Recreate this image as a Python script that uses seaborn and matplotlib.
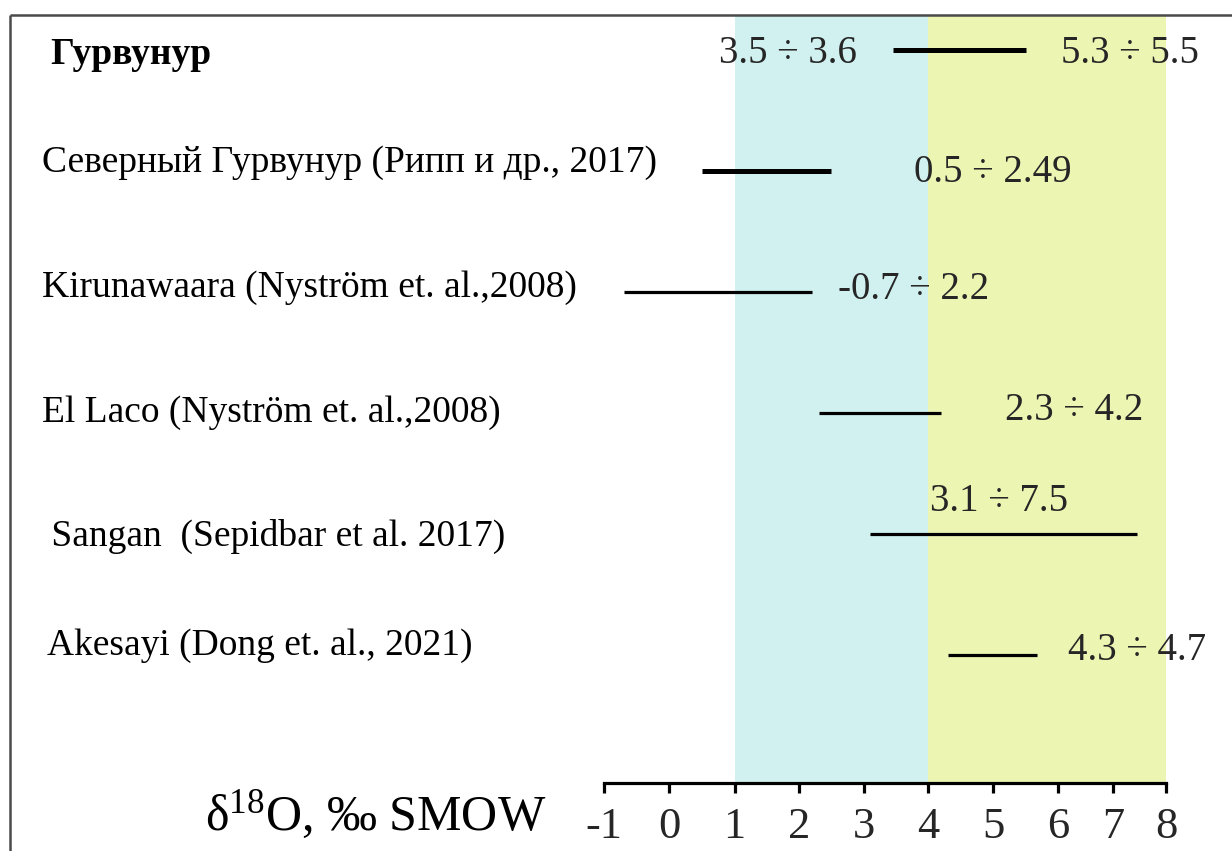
import numpy as np
import pandas as pd
import matplotlib
matplotlib.use("Agg")
import matplotlib.pyplot as plt
import seaborn as sns
from matplotlib.lines import Line2D

# ---------------- data ----------------
sites = [
    "Гурвунур",
    "Северный Гурвунур (Рипп и др., 2017)",
    "Kirunawaara (Nyström et. al.,2008)",
    "El Laco (Nyström et. al.,2008)",
    " Sangan  (Sepidbar et al. 2017)",
    "Akesayi (Dong et. al., 2021)",
]
d18o_min = [3.45, 0.5, -0.7, 2.3, 3.1, 4.3]
d18o_max = [5.5, 2.49, 2.2, 4.2, 7.45, 5.68]
range_labels = ["3.5 ÷ 3.6", "0.5 ÷ 2.49", "-0.7 ÷ 2.2", "2.3 ÷ 4.2", "3.1 ÷ 7.5", "4.3 ÷ 4.7"]
second_label = "5.3 ÷ 5.5"
line_weight = ["thick", "thick", "thin", "thin", "thin", "thin"]
x_ticks = [-1, 0, 1, 2, 3, 4, 5, 6, 7, 8]
band_magmatic = (1, 4)
band_hydrothermal = (4, 8)
x_title = r"$\mathregular{δ^{18}}$O, ‰ SMOW"

# ---------------- style ----------------
sns.set_theme(style="white")
plt.rcParams["font.family"] = ["Liberation Serif", "DejaVu Serif"]
plt.rcParams["mathtext.fontset"] = "custom"
plt.rcParams["mathtext.rm"] = "Liberation Serif"
plt.rcParams["axes.unicode_minus"] = False
plt.rcParams["lines.solid_capstyle"] = "butt"

W, H = 1232, 851
fig = plt.figure(figsize=(W / 100, H / 100), dpi=100)
fig.patch.set_facecolor("white")
ax = fig.add_axes([0, 0, 1, 1])
ax.set_facecolor("white")

# hand-drawn (slightly non-uniform) x axis of the original -> piecewise-linear scale
T = np.array(x_ticks, dtype=float)
P = np.array([604, 669, 734.5, 799, 864, 928.3, 993.3, 1058, 1113, 1166], dtype=float)
sl = (P[1] - P[0]) / (T[1] - T[0])
sr = (P[-1] - P[-2]) / (T[-1] - T[-2])


def fwd(x):
    x = np.asarray(x, dtype=float)
    y = np.interp(x, T, P)
    y = np.where(x < T[0], P[0] + (x - T[0]) * sl, y)
    y = np.where(x > T[-1], P[-1] + (x - T[-1]) * sr, y)
    return y


def inv(y):
    y = np.asarray(y, dtype=float)
    x = np.interp(y, P, T)
    x = np.where(y < P[0], T[0] + (y - P[0]) / sl, x)
    x = np.where(y > P[-1], T[-1] + (y - P[-1]) / sr, x)
    return x


ax.set_xscale("function", functions=(fwd, inv))
ax.set_xlim(float(inv(0)), float(inv(W)))

# rows: pixel = a + b*index
a_px, b_px = 49.6, 121.06


def row(p):
    return (p - a_px) / b_px


ax.set_ylim(row(H), row(0))

# background bands
ax.axvspan(*band_magmatic, ymin=1 - 783 / H, ymax=1 - 15 / H, color="#d1f1f1", lw=0, zorder=0)
ax.axvspan(*band_hydrothermal, ymin=1 - 783 / H, ymax=1 - 15 / H, color="#edf5b3", lw=0, zorder=0)

# range lines via seaborn
rows = []
for i, (s, lo, hi, w) in enumerate(zip(sites, d18o_min, d18o_max, line_weight)):
    rows.append({"site": s, "idx": i, "value": lo, "weight": w})
    rows.append({"site": s, "idx": i, "value": hi, "weight": w})
df = pd.DataFrame(rows)
sns.lineplot(data=df, x="value", y="idx", units="site", estimator=None,
             size="weight", sizes={"thick": 3.6, "thin": 2.3},
             color="black", legend=False, sort=True, ax=ax, zorder=3)
ax.set_xlabel("")
ax.set_ylabel("")

# site names (left)
pt = 0.72
name_px = [50, 42, 42, 42, 42, 47]
name_dy = [-5, 8, 4, 0, -3, 9]
FS = 27
for i, s in enumerate(sites):
    ax.annotate(s, xy=(0, i), xycoords=("figure pixels", "data"),
                xytext=(name_px[i] * pt, name_dy[i] * pt), textcoords="offset points",
                ha="left", va="center", fontsize=FS,
                fontweight="bold" if i == 0 else "normal", color="black")

# range labels
FR = 28
for i, lab in enumerate(range_labels):
    lo, hi = d18o_min[i], d18o_max[i]
    if i == 0:
        ax.annotate(lab, xy=(lo, i), xytext=(-36 * pt, -4 * pt), textcoords="offset points",
                    ha="right", va="center", fontsize=FR)
        ax.annotate(second_label, xy=(hi, i), xytext=(35 * pt, -4 * pt), textcoords="offset points",
                    ha="left", va="center", fontsize=FR)
    elif i == 1:
        ax.annotate(lab, xy=(hi, i), xytext=(83 * pt, -2 * pt), textcoords="offset points",
                    ha="left", va="center", fontsize=FR)
    elif i == 2:
        ax.annotate(lab, xy=(hi, i), xytext=(26 * pt, 2 * pt), textcoords="offset points",
                    ha="left", va="center", fontsize=FR)
    elif i == 3:
        ax.annotate(lab, xy=(hi, i), xytext=(64 * pt, 2 * pt), textcoords="offset points",
                    ha="left", va="center", fontsize=FR)
    elif i == 4:
        ax.annotate(lab, xy=(lo, i), xytext=(60 * pt, 32 * pt), textcoords="offset points",
                    ha="left", va="center", fontsize=FR)
    else:
        ax.annotate(lab, xy=(hi, i), xytext=(31 * pt, 4 * pt), textcoords="offset points",
                    ha="left", va="center", fontsize=FR)

# x axis (bottom spine drawn as the scale bar)
for side in ["top", "left", "right"]:
    ax.spines[side].set_visible(False)
sp = ax.spines["bottom"]
sp.set_visible(True)
sp.set_position(("data", row(783)))
sp.set_bounds(x_ticks[0], x_ticks[-1])
sp.set_linewidth(2.3)
sp.set_color("black")
ax.set_xticks(x_ticks)
ax.set_xticklabels([str(t) for t in x_ticks])
ax.xaxis.set_minor_locator(matplotlib.ticker.NullLocator())
ax.tick_params(axis="x", direction="out", length=7, width=2.3, color="black",
               labelsize=32, pad=10, bottom=True)
ax.set_yticks([])

# axis title
fig.text(205 / W, 1 - 815 / H, x_title, ha="left", va="center", fontsize=36, color="black")

# outer frame (only top and left edges visible in the original crop)
fig.add_artist(Line2D([10 / W, 10 / W], [0, 1 - 15 / H], transform=fig.transFigure,
                      color="#4a4a4a", lw=1.8))
fig.add_artist(Line2D([10 / W, 1], [1 - 15 / H, 1 - 15 / H], transform=fig.transFigure,
                      color="#4a4a4a", lw=1.8))

fig.savefig("out.png", dpi=100)
